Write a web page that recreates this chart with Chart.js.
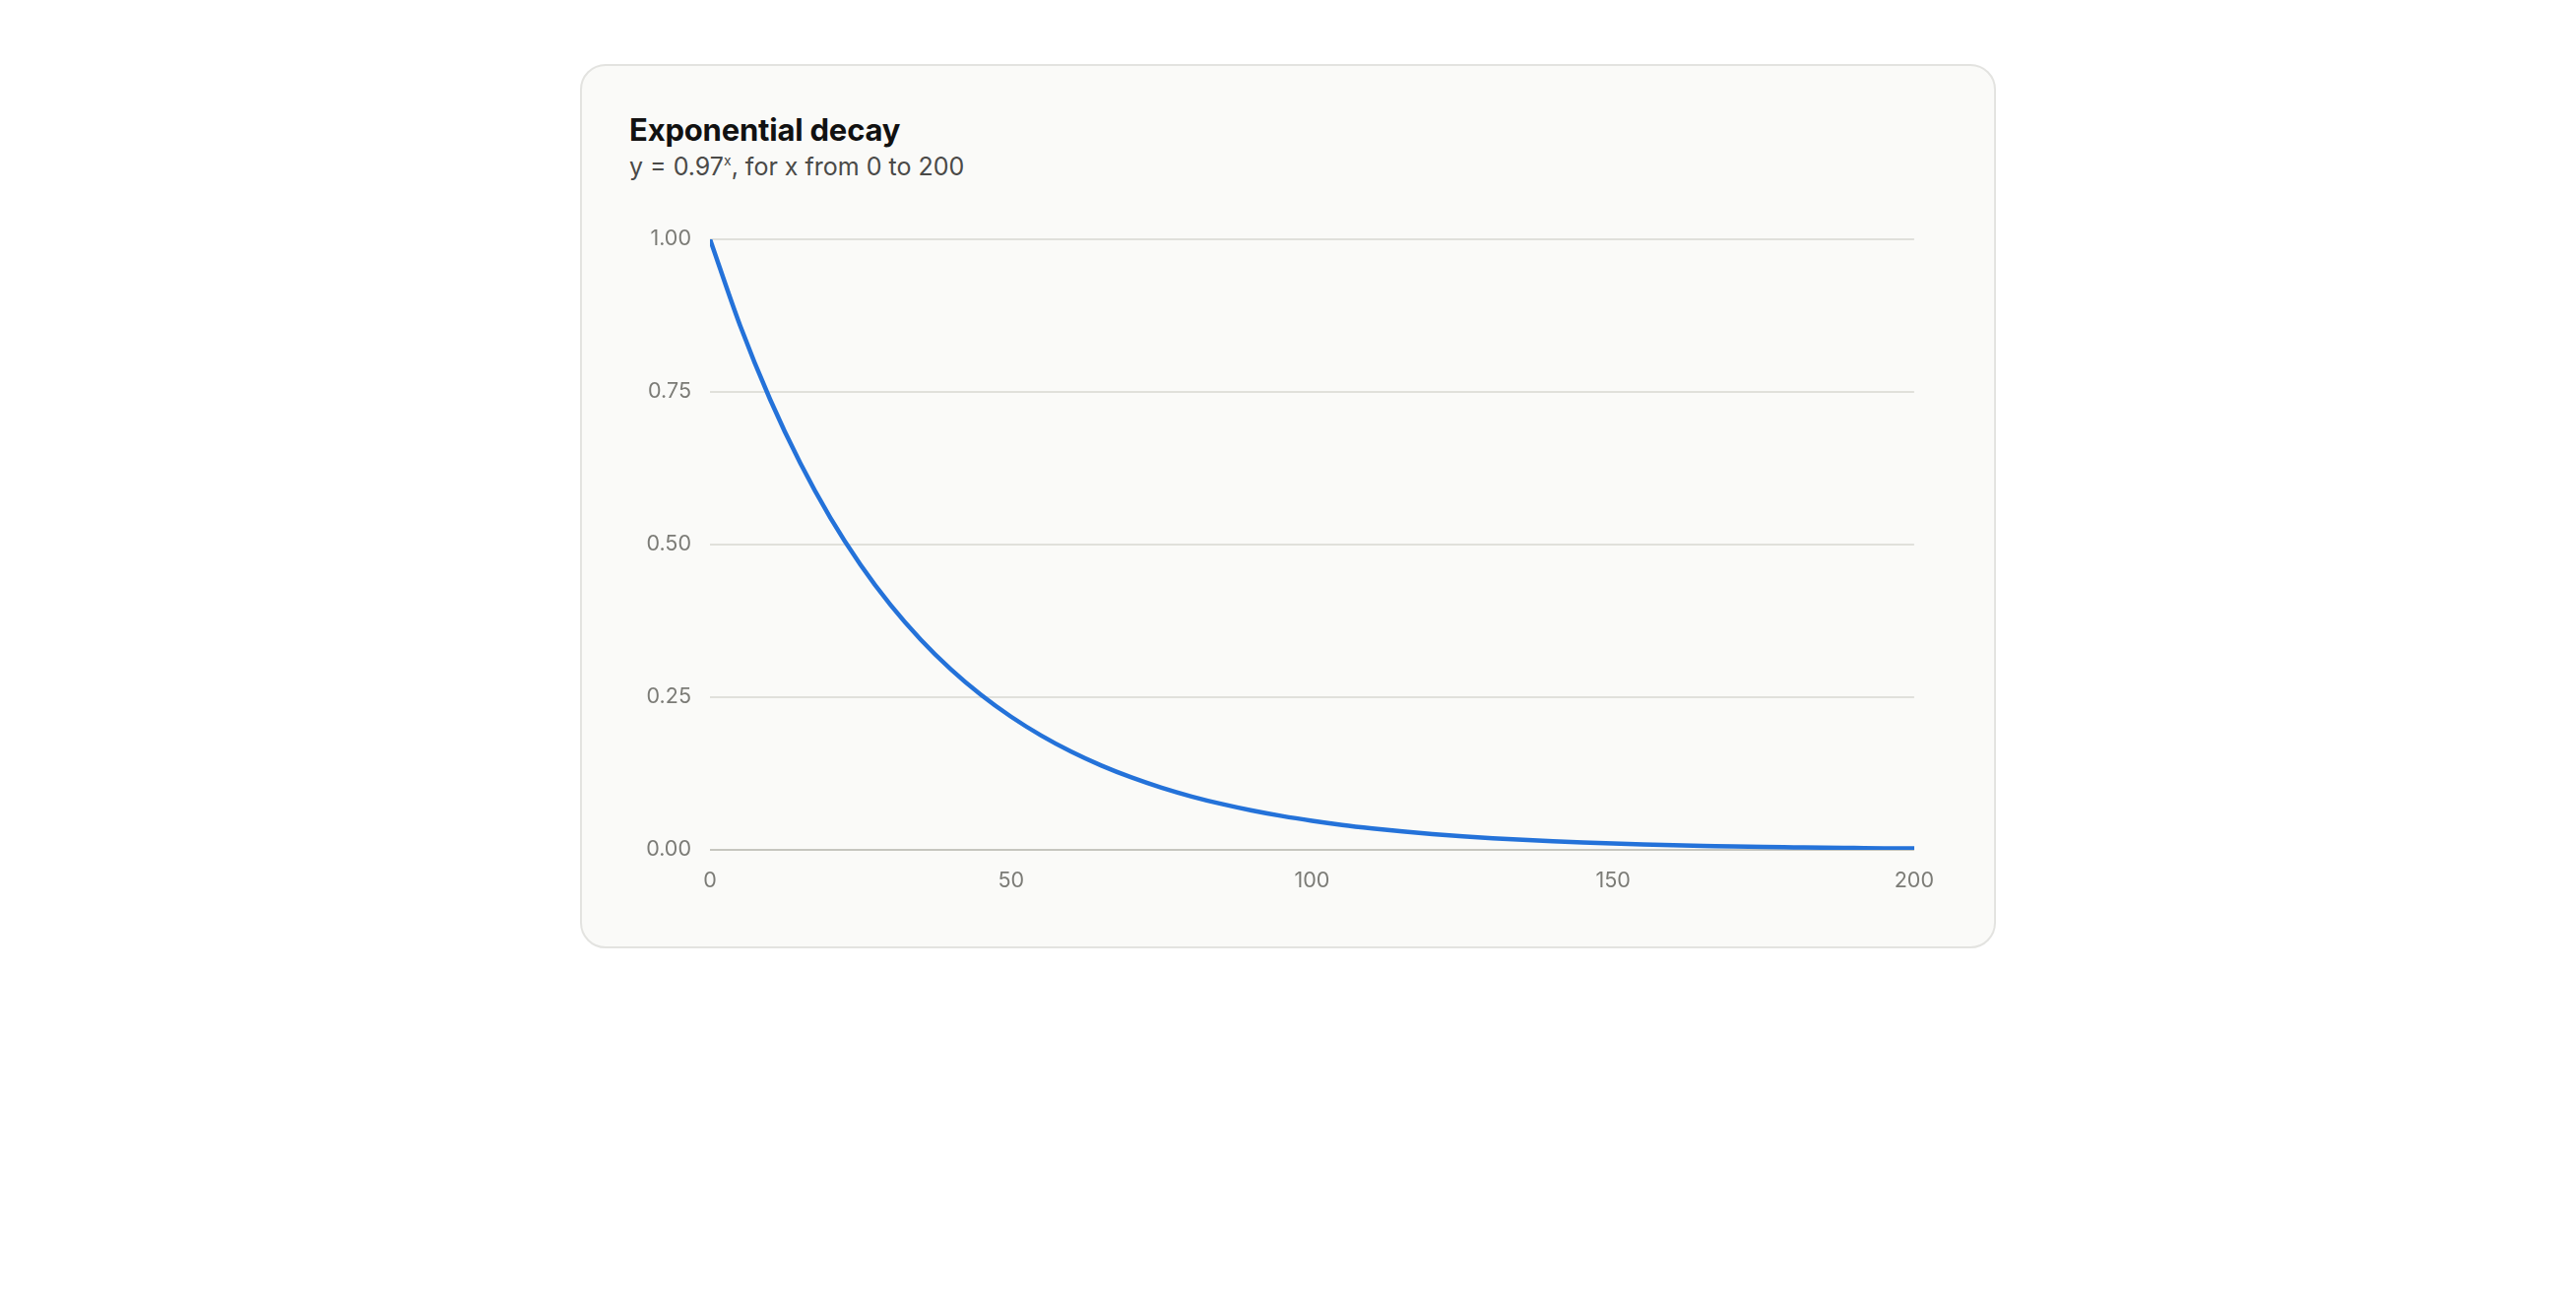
<!DOCTYPE html>
<html>
<head>
<meta charset="utf-8">
<script src="https://cdn.jsdelivr.net/npm/chart.js@4"></script>
<style>
  html, body { margin: 0; padding: 0; background: #ffffff; }
  body { width: 2616px; height: 1314px; position: relative; overflow: hidden; font-family: Inter, "Noto Sans", sans-serif; }
  #card { position: absolute; left: 589px; top: 65px; width: 1438px; height: 898px; box-sizing: border-box;
          border: 2px solid #e3e3e0; border-radius: 26px; background: #fafaf8; }
  #title { position: absolute; left: 639px; top: 113px; font-size: 31px; font-weight: 700; color: #111111; line-height: 38px; white-space: nowrap; letter-spacing: -0.2px; }
  #subtitle { position: absolute; left: 639px; top: 154px; font-size: 25px; font-weight: 400; color: #4a4a48; line-height: 30px; white-space: nowrap; }
  #subtitle sup { font-size: 14px; vertical-align: 0; position: relative; top: -10px; }
  #wrap { position: absolute; left: 639px; top: 211px; width: 1344px; height: 724px; }
</style>
</head>
<body>
<div id="card"></div>
<div id="title">Exponential decay</div>
<div id="subtitle">y = 0.97<sup>x</sup>, for x from 0 to 200</div>
<div id="wrap"><canvas id="c"></canvas></div>
<script>
const xValues = [0, 5, 10, 15, 20, 25, 30, 35, 40, 45, 50, 55, 60, 65, 70, 75, 80, 85, 90, 95, 100,
                 105, 110, 115, 120, 125, 130, 135, 140, 145, 150, 155, 160, 165, 170, 175, 180, 185, 190, 195, 200];
const yValues = [1.0000, 0.8587, 0.7374, 0.6333, 0.5438, 0.4670, 0.4010, 0.3444, 0.2957, 0.2539, 0.2181,
                 0.1873, 0.1608, 0.1381, 0.1186, 0.1018, 0.0874, 0.0751, 0.0645, 0.0554, 0.0476,
                 0.0408, 0.0351, 0.0301, 0.0259, 0.0222, 0.0191, 0.0164, 0.0141, 0.0121, 0.0104,
                 0.0089, 0.0076, 0.0066, 0.0056, 0.0048, 0.0042, 0.0036, 0.0031, 0.0026, 0.0023];
const xTickValues = [0, 50, 100, 150, 200];
const yTickValues = [0, 0.25, 0.5, 0.75, 1];
const yTickLabels = ['0.00', '0.25', '0.50', '0.75', '1.00'];

const points = xValues.map((x, i) => ({ x: x, y: yValues[i] }));

new Chart(document.getElementById('c'), {
  type: 'line',
  data: {
    datasets: [{
      data: points,
      borderColor: '#2472d9',
      borderWidth: 4.5,
      pointRadius: 0,
      fill: false,
      cubicInterpolationMode: 'monotone',
      borderCapStyle: 'round',
      borderJoinStyle: 'round'
    }]
  },
  options: {
    responsive: true,
    maintainAspectRatio: false,
    devicePixelRatio: 1,
    animation: false,
    layout: { padding: { top: 24, right: 33, left: 0, bottom: 0 } },
    plugins: { legend: { display: false }, tooltip: { enabled: false }, title: { display: false } },
    scales: {
      x: {
        type: 'linear',
        min: 0, max: 200,
        afterBuildTicks: (s) => { s.ticks = xTickValues.map(v => ({ value: v })); },
        afterFit: (s) => { s.height = 72; },
        grid: { display: false, drawTicks: false },
        border: { display: false },
        ticks: { padding: 19, color: '#7b7b76', font: { family: 'Inter', size: 21.5 }, maxRotation: 0,
                 callback: (v) => String(v) }
      },
      y: {
        type: 'linear',
        min: 0, max: 1,
        afterBuildTicks: (s) => { s.ticks = yTickValues.map(v => ({ value: v })); },
        afterFit: (s) => { s.width = 82; },
        grid: {
          drawTicks: false,
          lineWidth: 2,
          color: (ctx) => (ctx.tick && ctx.tick.value === 0) ? '#c6c6bf' : '#e0e0db'
        },
        border: { display: false },
        ticks: { padding: 19, color: '#7b7b76', font: { family: 'Inter', size: 21.5 },
                 callback: (v) => yTickLabels[yTickValues.indexOf(v)] }
      }
    }
  }
});
</script>
</body>
</html>
